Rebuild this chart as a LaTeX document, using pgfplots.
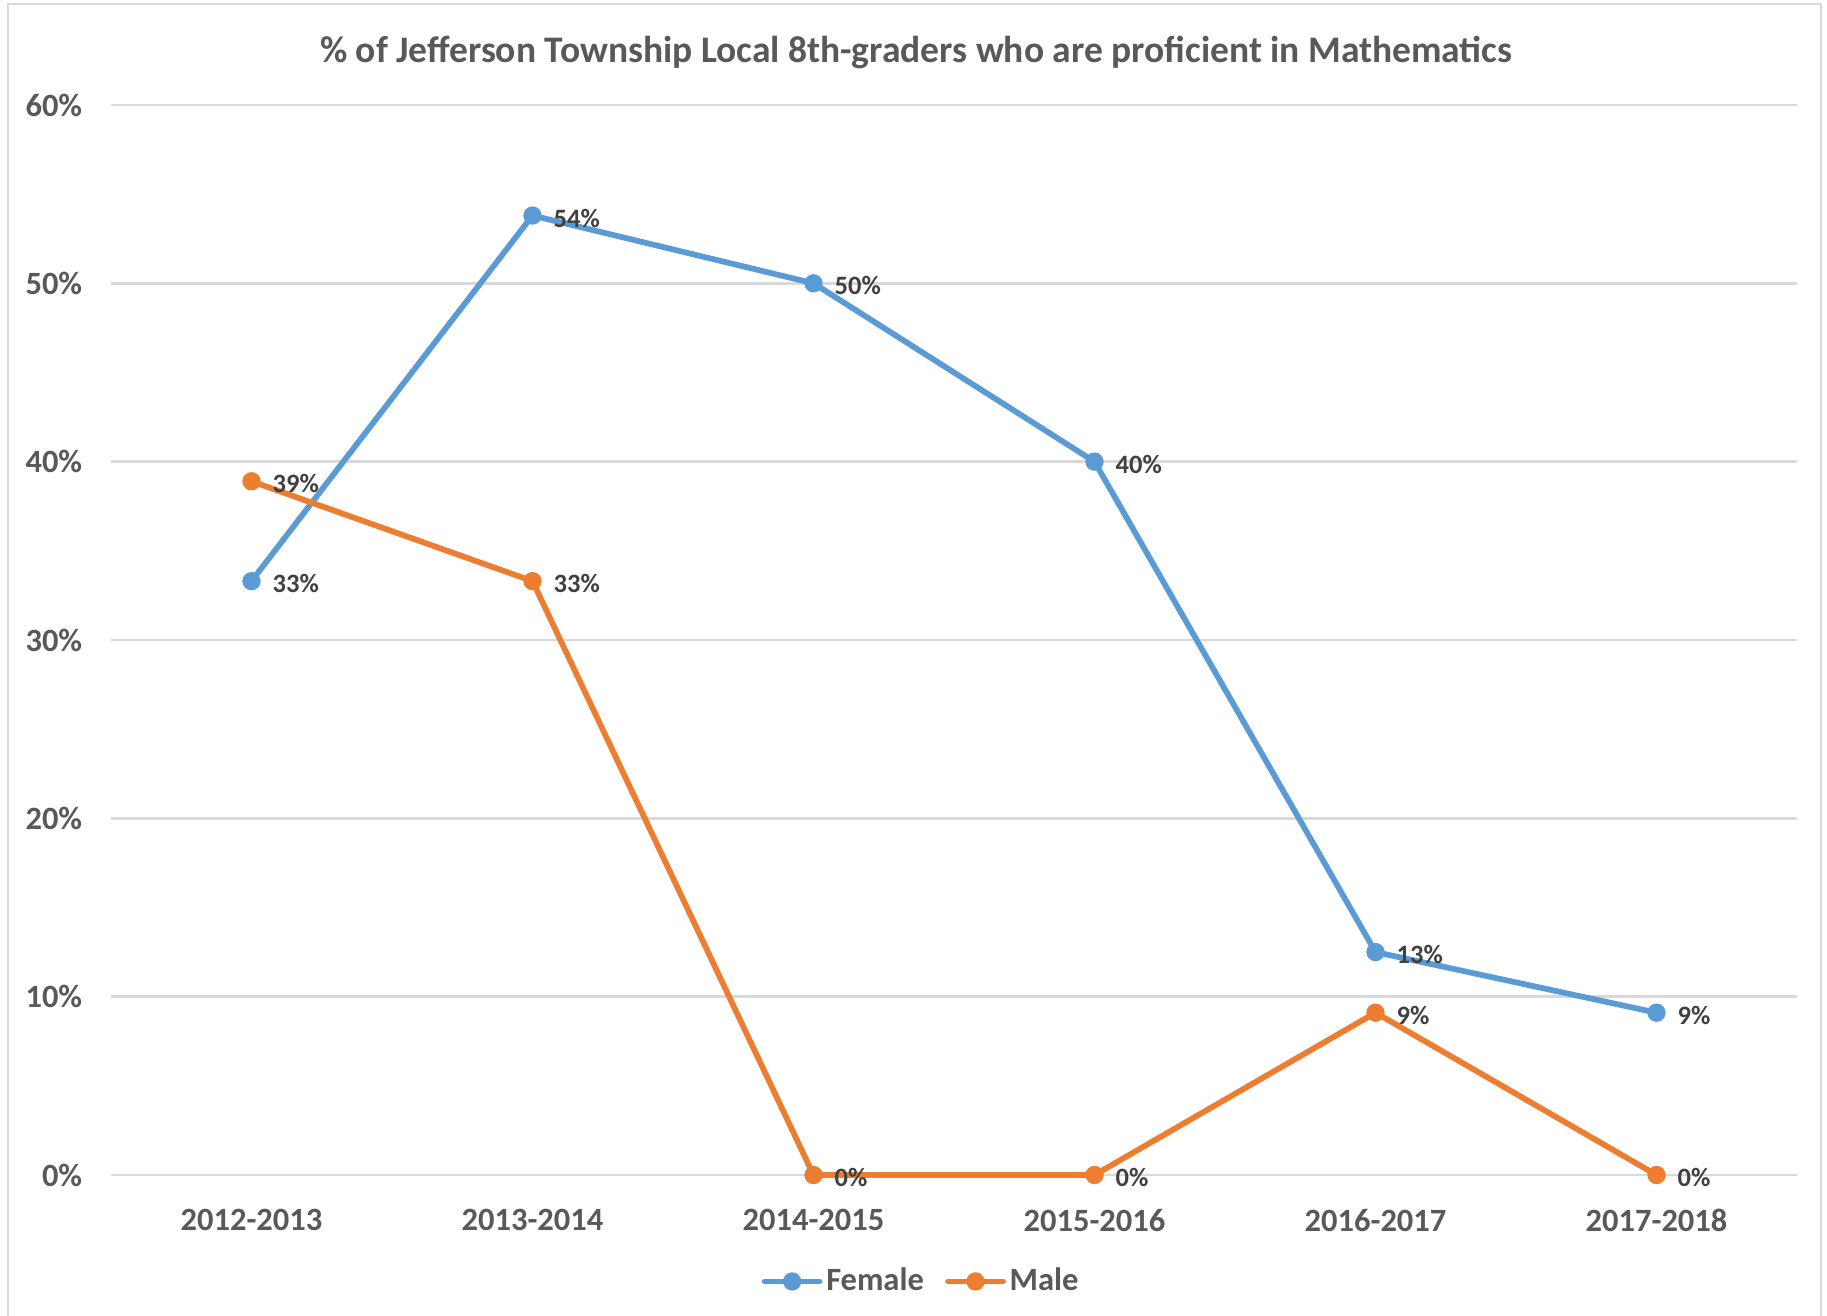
\documentclass[border=0pt]{standalone}
\usepackage{pgfplots}
\pgfplotsset{compat=1.18}
\usepackage{fontspec}
\setmainfont{Carlito}
\definecolor{fem}{HTML}{5B9BD5}
\definecolor{mal}{HTML}{ED7D31}
\definecolor{gridc}{HTML}{D9D9D9}
\definecolor{txt}{HTML}{595959}
\definecolor{lbl}{HTML}{404040}
\begin{document}
\begin{tikzpicture}
% canvas and chart border
\path[use as bounding box] (0pt,0pt) rectangle (730.8pt,526.4pt);
\draw[gridc, line width=0.5pt] (3.2pt,0pt) -- (3.2pt,524.8pt) -- (728.4pt,524.8pt) -- (728.4pt,0pt);
\begin{axis}[
    at={(44.4pt,56.4pt)}, anchor=south west,
    scale only axis,
    width=674.4pt, height=428pt,
    xmin=-0.5, xmax=5.5,
    ymin=0, ymax=60,
    xtick={0,1,2,3,4,5},
    xticklabels={2012-2013,2013-2014,2014-2015,2015-2016,2016-2017,2017-2018},
    ytick={0,10,20,30,40,50,60},
    yticklabels={0\%,10\%,20\%,30\%,40\%,50\%,60\%},
    axis line style={draw=none},
    tick style={draw=none},
    ymajorgrids,
    grid style={gridc, line width=1pt},
    ticklabel style={font=\fontsize{13}{16}\selectfont\bfseries, text=txt},
    xticklabel style={yshift=-10pt},
    yticklabel style={xshift=-8pt},
    title={\% of Jefferson Township Local 8th-graders who are proficient in Mathematics},
    title style={font=\fontsize{15}{18}\selectfont\bfseries, text=txt, at={(0.4776,1.0348)}, anchor=center},
    legend style={at={(0.481,-0.0995)}, anchor=center, draw=none, legend columns=-1,
        font=\fontsize{13}{16}\selectfont\bfseries, text=txt,
        nodes={inner xsep=1.5pt},
        /tikz/every even column/.append style={column sep=7pt}},
    legend image code/.code={
        \draw[#1, line cap=round, mark repeat=2, mark phase=2] plot coordinates {(0pt,0pt) (11pt,0pt) (22pt,0pt)};
    },
    nodes near coords,
    point meta=explicit symbolic,
    every node near coord/.style={anchor=west, xshift=4pt, yshift=-1pt,
        font=\fontsize{10.6}{13}\selectfont\bfseries, text=lbl},
    clip=false,
]
\addplot[fem, line width=2.3pt, mark=*, mark size=2.5pt, mark options={solid, fill=fem, draw=fem}]
coordinates {
    (0,33.3) [33\%]
    (1,53.8) [54\%]
    (2,50.0) [50\%]
    (3,40.0) [40\%]
    (4,12.5) [13\%]
    (5,9.1) [9\%]
};
\addlegendentry{Female}
\addplot[mal, line width=2.3pt, mark=*, mark size=2.5pt, mark options={solid, fill=mal, draw=mal}]
coordinates {
    (0,38.9) [39\%]
    (1,33.3) [33\%]
    (2,0) [0\%]
    (3,0) [0\%]
    (4,9.1) [9\%]
    (5,0) [0\%]
};
\addlegendentry{Male}
\end{axis}
\end{tikzpicture}
\end{document}
